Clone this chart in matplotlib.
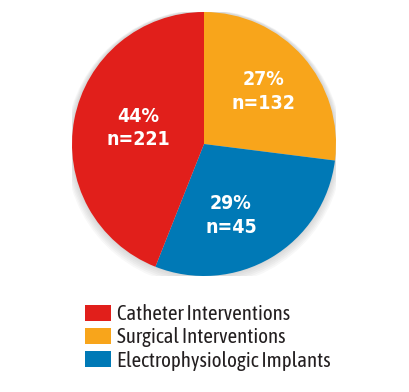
import numpy as np
import matplotlib.pyplot as plt
from matplotlib.patches import Patch, Circle

categories = ["Surgical Interventions", "Electrophysiologic Implants", "Catheter Interventions"]
percents = [27, 29, 44]
counts = [132, 45, 221]
colors = ["#F8A51B", "#0079B6", "#E11F1B"]
legend_order = [2, 0, 1]

plt.rcParams['font.family'] = ['Asap Condensed', 'DejaVu Sans']
plt.rcParams['font.stretch'] = 'condensed'

fig = plt.figure(figsize=(4.1, 3.92), dpi=100)
ax = fig.add_axes([72 / 410, 116 / 392, 264 / 410, 264 / 392])

# soft drop shadow around the pie
for k in range(6):
    ax.add_patch(Circle((0.0, -0.006 * k), 1.0 + 0.008 * (k + 1), color="#888888",
                        alpha=0.06, lw=0, zorder=0))

wedges, _ = ax.pie(percents, colors=colors, startangle=90, counterclock=False,
                   wedgeprops=dict(linewidth=0))
for w in wedges:
    w.set_zorder(1)

# label placement: radius fraction and angle nudge per wedge
dists = [0.6, 0.58, 0.51]
nudges = [0, -10, -3]
for w, p, n, d, a in zip(wedges, percents, counts, dists, nudges):
    mid = np.deg2rad((w.theta1 + w.theta2) / 2 + a)
    ax.text(d * np.cos(mid), d * np.sin(mid), f"{p}%\nn={n}", color="white",
            family=['DejaVu Sans'], stretch='condensed',
            fontsize=14, fontweight="bold", ha="center", va="center",
            linespacing=1.3, zorder=3)

ax.set_xlim(-1, 1)
ax.set_ylim(-1, 1)
ax.set_aspect("equal")
ax.axis("off")

handles = [Patch(facecolor=colors[i], edgecolor="none") for i in legend_order]
labels = [categories[i] for i in legend_order]
fig.legend(handles, labels, loc="upper left", bbox_to_anchor=(85 / 410, 1 - 304 / 392),
           frameon=False, fontsize=15, handlelength=1.25, handleheight=0.8,
           handletextpad=0.28, labelspacing=0.16, borderaxespad=0, borderpad=0,
           labelcolor="#231f20")

fig.savefig("out.png", dpi=100)
